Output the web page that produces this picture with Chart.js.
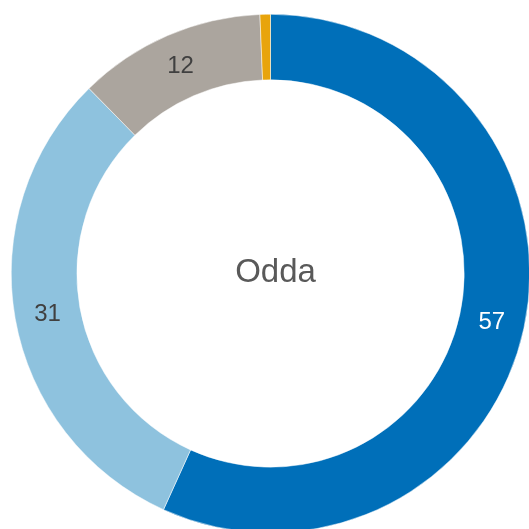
<!DOCTYPE html>
<html>
<head>
<meta charset="utf-8">
<style>
html,body{margin:0;padding:0;background:#fff;overflow:hidden;width:529px;height:529px;}
#c{position:absolute;left:11px;top:14px;}
</style>
<script src="https://cdn.jsdelivr.net/npm/chart.js@4"></script>
</head>
<body>
<canvas id="c" width="519" height="519"></canvas>
<script>
const categories = ["A", "B", "C", "D"];
const values = [56.8, 30.9, 11.7, 0.65];
const labelsShown = ["57", "31", "12", ""];
const colors = ["#006FB9", "#8EC2DE", "#ABA59E", "#E8A40C"];
const labelColors = ["#ffffff", "#404040", "#404040", "#404040"];
const centerText = "Odda";

const labelPlugin = {
  id: 'labels',
  afterDatasetsDraw(chart) {
    const ctx = chart.ctx;
    const meta = chart.getDatasetMeta(0);
    ctx.save();
    ctx.font = '24px "Liberation Sans", Arial, sans-serif';
    ctx.textAlign = 'center';
    ctx.textBaseline = 'middle';
    meta.data.forEach((arc, i) => {
      if (!labelsShown[i]) return;
      const p = arc.tooltipPosition();
      ctx.fillStyle = labelColors[i];
      ctx.fillText(labelsShown[i], p.x, p.y + 1);
    });
    const a = meta.data[0];
    ctx.font = '33px "Liberation Sans", Arial, sans-serif';
    ctx.fillStyle = '#595959';
    ctx.fillText(centerText, a.x + 5, a.y - 1);
    ctx.restore();
  }
};

new Chart(document.getElementById('c'), {
  type: 'doughnut',
  data: {
    labels: categories,
    datasets: [{
      data: values,
      backgroundColor: colors,
      borderColor: '#ffffff',
      borderWidth: 0.5
    }]
  },
  options: {
    responsive: false,
    animation: false,
    cutout: '74.7%',
    layout: { padding: 0 },
    plugins: { legend: { display: false }, tooltip: { enabled: false } }
  },
  plugins: [labelPlugin]
});
</script>
</body>
</html>
